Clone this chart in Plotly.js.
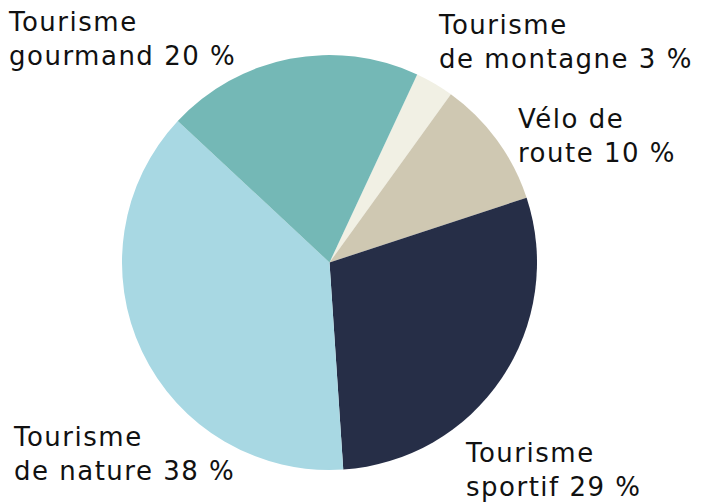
<!DOCTYPE html>
<html>
<head>
<meta charset="utf-8">
<script src="https://cdn.plot.ly/plotly-3.0.1.min.js"></script>
<style>
html,body{margin:0;padding:0;background:#fff;}
#chart{width:707px;height:503px;}
svg text.annotation-text{letter-spacing:1.5px;}
</style>
</head>
<body>
<div id="chart"></div>
<script>
// Data
const categories = ["Tourisme<br>de montagne", "Vélo de<br>route", "Tourisme<br>sportif", "Tourisme<br>de nature", "Tourisme<br>gourmand"];
const shares = [3, 10, 29, 38, 20];
const colors = ["#f1f0e4", "#cfc8b2", "#262e47", "#a8d8e3", "#74b8b6"];

// Label placement (pixels, left/top of text box)
const labelPos = [[436, 8], [516, 102], [463, 436], [11, 420], [6, 5]];

const W = 707, H = 503;
const annotations = categories.map((c, i) => ({
  text: c + " " + shares[i] + " %",
  xref: "paper", yref: "paper",
  x: labelPos[i][0] / W, y: 1 - labelPos[i][1] / H,
  xanchor: "left", yanchor: "top", align: "left",
  showarrow: false,
  font: {family: "DejaVu Sans, sans-serif", size: 26, color: "#111111"}
}));

const trace = {
  type: "pie",
  values: shares,
  labels: categories,
  sort: false,
  direction: "clockwise",
  rotation: 25,
  marker: {colors: colors, line: {width: 0}},
  textinfo: "none",
  hoverinfo: "none",
  domain: {x: [122 / W, 537 / W], y: [33 / H, 448 / H]}
};

const layout = {
  width: W, height: H,
  margin: {l: 0, r: 0, t: 0, b: 0},
  showlegend: false,
  paper_bgcolor: "#ffffff",
  annotations: annotations
};

Plotly.newPlot("chart", [trace], layout, {displayModeBar: false, staticPlot: true});
</script>
</body>
</html>
